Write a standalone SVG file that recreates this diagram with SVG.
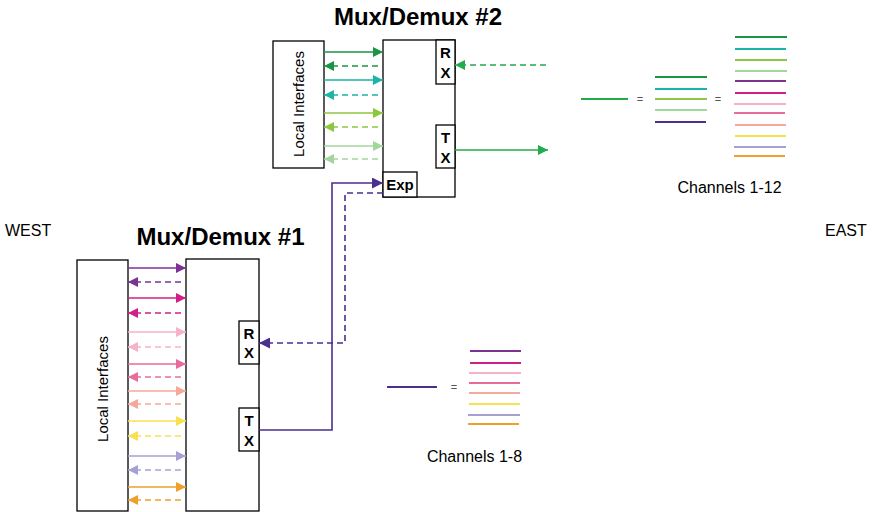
<svg xmlns="http://www.w3.org/2000/svg" width="875" height="512" viewBox="0 0 875 512">
  <style>
    text{font-family:"Liberation Sans",Arial,Helvetica,sans-serif;fill:#000}
    .box{fill:#fff;stroke:#000;stroke-width:1.3}
    .ttl{font-size:24px;font-weight:bold;text-anchor:middle}
    .port{font-size:15px;font-weight:bold;text-anchor:middle}
    .loc{font-size:15px;text-anchor:middle}
    .side{font-size:16px}
    .cap{font-size:16px;text-anchor:middle}
    .eq{font-size:11px;fill:#555;text-anchor:middle}
    .w{fill:none;stroke-width:1.6}
    .d{stroke-dasharray:6 4}
    .ch{fill:none;stroke-width:2}
    .g1{stroke:#1b9446}.g2{stroke:#1db3a6}.g3{stroke:#8dc63f}.g4{stroke:#a3d69d}
    .ind{stroke:#4b2e90}.gE{stroke:#21ab4a}
    .p1{stroke:#7b3294}.p2{stroke:#d01f86}.p3{stroke:#f4b3c9}.p4{stroke:#e96b9b}
    .p5{stroke:#f6a89b}.p6{stroke:#f8e151}.p7{stroke:#a5a2d3}.p8{stroke:#efa02a}
  </style>
  <defs>
    <marker id="a-g1" viewBox="0 0 10 10" refX="10" refY="5" markerWidth="10" markerHeight="10" markerUnits="userSpaceOnUse" orient="auto"><path d="M0,0L10,5L0,10z" fill="#1b9446"/></marker>
    <marker id="a-g2" viewBox="0 0 10 10" refX="10" refY="5" markerWidth="10" markerHeight="10" markerUnits="userSpaceOnUse" orient="auto"><path d="M0,0L10,5L0,10z" fill="#1db3a6"/></marker>
    <marker id="a-g3" viewBox="0 0 10 10" refX="10" refY="5" markerWidth="10" markerHeight="10" markerUnits="userSpaceOnUse" orient="auto"><path d="M0,0L10,5L0,10z" fill="#8dc63f"/></marker>
    <marker id="a-g4" viewBox="0 0 10 10" refX="10" refY="5" markerWidth="10" markerHeight="10" markerUnits="userSpaceOnUse" orient="auto"><path d="M0,0L10,5L0,10z" fill="#a3d69d"/></marker>
    <marker id="a-ind" viewBox="0 0 10 10" refX="10" refY="5" markerWidth="11" markerHeight="11" markerUnits="userSpaceOnUse" orient="auto"><path d="M0,0L10,5L0,10z" fill="#4b2e90"/></marker>
    <marker id="a-gE" viewBox="0 0 10 10" refX="10" refY="5" markerWidth="10" markerHeight="10" markerUnits="userSpaceOnUse" orient="auto"><path d="M0,0L10,5L0,10z" fill="#21ab4a"/></marker>
    <marker id="a-p1" viewBox="0 0 10 10" refX="10" refY="5" markerWidth="10" markerHeight="10" markerUnits="userSpaceOnUse" orient="auto"><path d="M0,0L10,5L0,10z" fill="#7b3294"/></marker>
    <marker id="a-p2" viewBox="0 0 10 10" refX="10" refY="5" markerWidth="10" markerHeight="10" markerUnits="userSpaceOnUse" orient="auto"><path d="M0,0L10,5L0,10z" fill="#d01f86"/></marker>
    <marker id="a-p3" viewBox="0 0 10 10" refX="10" refY="5" markerWidth="10" markerHeight="10" markerUnits="userSpaceOnUse" orient="auto"><path d="M0,0L10,5L0,10z" fill="#f4b3c9"/></marker>
    <marker id="a-p4" viewBox="0 0 10 10" refX="10" refY="5" markerWidth="10" markerHeight="10" markerUnits="userSpaceOnUse" orient="auto"><path d="M0,0L10,5L0,10z" fill="#e96b9b"/></marker>
    <marker id="a-p5" viewBox="0 0 10 10" refX="10" refY="5" markerWidth="10" markerHeight="10" markerUnits="userSpaceOnUse" orient="auto"><path d="M0,0L10,5L0,10z" fill="#f6a89b"/></marker>
    <marker id="a-p6" viewBox="0 0 10 10" refX="10" refY="5" markerWidth="10" markerHeight="10" markerUnits="userSpaceOnUse" orient="auto"><path d="M0,0L10,5L0,10z" fill="#f8e151"/></marker>
    <marker id="a-p7" viewBox="0 0 10 10" refX="10" refY="5" markerWidth="10" markerHeight="10" markerUnits="userSpaceOnUse" orient="auto"><path d="M0,0L10,5L0,10z" fill="#a5a2d3"/></marker>
    <marker id="a-p8" viewBox="0 0 10 10" refX="10" refY="5" markerWidth="10" markerHeight="10" markerUnits="userSpaceOnUse" orient="auto"><path d="M0,0L10,5L0,10z" fill="#efa02a"/></marker>
  </defs>

  <rect width="875" height="512" fill="#fff"/>

  <!-- side labels -->
  <text class="side" x="5" y="236">WEST</text>
  <text class="side" x="825" y="236">EAST</text>

  <!-- Mux/Demux #2 -->
  <g id="mux2">
    <text class="ttl" x="418" y="25">Mux/Demux #2</text>
    <rect class="box" x="383" y="40" width="72" height="157"/>
  </g>
  <g id="mux2-local">
    <rect class="box" x="273" y="41" width="51" height="127"/>
    <text class="loc" transform="translate(304,104) rotate(-90)">Local Interfaces</text>
  </g>
  <g id="mux2-rx">
    <rect class="box" x="436" y="40" width="19" height="44"/>
    <text class="port" x="445.5" y="57.5">R</text>
    <text class="port" x="445.5" y="77.5">X</text>
  </g>
  <g id="mux2-tx">
    <rect class="box" x="436" y="125" width="19" height="43"/>
    <text class="port" x="445.5" y="142.5">T</text>
    <text class="port" x="445.5" y="162.5">X</text>
  </g>
  <g id="mux2-exp">
    <rect class="box" x="383" y="172" width="34" height="25"/>
    <text class="port" x="400" y="190">Exp</text>
  </g>

  <!-- Mux/Demux #1 -->
  <g id="mux1">
    <text class="ttl" x="220.5" y="245">Mux/Demux #1</text>
    <rect class="box" x="186" y="259" width="73" height="252"/>
  </g>
  <g id="mux1-local">
    <rect class="box" x="77" y="260" width="51" height="251"/>
    <text class="loc" transform="translate(108,389) rotate(-90)">Local Interfaces</text>
  </g>
  <g id="mux1-rx">
    <rect class="box" x="239" y="321" width="20" height="43"/>
    <text class="port" x="249" y="339">R</text>
    <text class="port" x="249" y="358">X</text>
  </g>
  <g id="mux1-tx">
    <rect class="box" x="239" y="408" width="20" height="43"/>
    <text class="port" x="249" y="426">T</text>
    <text class="port" x="249" y="445.5">X</text>
  </g>

  <g id="connectors">
    <!-- local interfaces of #2 -->
    <path class="w g1" d="M324,52H383" marker-end="url(#a-g1)"/>
    <path class="w d g1" d="M378,66H324" marker-end="url(#a-g1)"/>
    <path class="w g2" d="M324,80H383" marker-end="url(#a-g2)"/>
    <path class="w d g2" d="M378,95H324" marker-end="url(#a-g2)"/>
    <path class="w g3" d="M324,113H383" marker-end="url(#a-g3)"/>
    <path class="w d g3" d="M378,127H324" marker-end="url(#a-g3)"/>
    <path class="w g4" d="M324,146H383" marker-end="url(#a-g4)"/>
    <path class="w d g4" d="M378,159H324" marker-end="url(#a-g4)"/>

    <!-- east line side of #2 -->
    <path class="w d gE" d="M546,65H455" marker-end="url(#a-gE)"/>
    <path class="w gE" d="M455,150H548" marker-end="url(#a-gE)"/>

    <!-- local interfaces of #1 -->
    <path class="w p1" d="M128,268H186" marker-end="url(#a-p1)"/>
    <path class="w d p1" d="M181,282H128" marker-end="url(#a-p1)"/>
    <path class="w p2" d="M128,298H186" marker-end="url(#a-p2)"/>
    <path class="w d p2" d="M181,313H128" marker-end="url(#a-p2)"/>
    <path class="w p3" d="M128,332H186" marker-end="url(#a-p3)"/>
    <path class="w d p3" d="M181,347H128" marker-end="url(#a-p3)"/>
    <path class="w p4" d="M128,364H186" marker-end="url(#a-p4)"/>
    <path class="w d p4" d="M181,377H128" marker-end="url(#a-p4)"/>
    <path class="w p5" d="M128,391H186" marker-end="url(#a-p5)"/>
    <path class="w d p5" d="M181,404H128" marker-end="url(#a-p5)"/>
    <path class="w p6" d="M128,421H186" marker-end="url(#a-p6)"/>
    <path class="w d p6" d="M181,436H128" marker-end="url(#a-p6)"/>
    <path class="w p7" d="M128,456H186" marker-end="url(#a-p7)"/>
    <path class="w d p7" d="M181,470H128" marker-end="url(#a-p7)"/>
    <path class="w p8" d="M128,487H186" marker-end="url(#a-p8)"/>
    <path class="w d p8" d="M181,500H128" marker-end="url(#a-p8)"/>

    <!-- expansion link between #1 and #2 -->
    <path class="w ind" d="M259,430H332V183H383" marker-end="url(#a-ind)"/>
    <path class="w d ind" d="M383,193H345V343H259" marker-end="url(#a-ind)"/>
  </g>

  <!-- channel legend, east side -->
  <g id="legend-12">
    <path class="ch gE" d="M581,99H628"/>
    <text class="eq" x="640" y="103">=</text>
    <path class="ch g1" d="M655,77H707"/>
    <path class="ch g2" d="M655,89H707"/>
    <path class="ch g3" d="M655,99H707"/>
    <path class="ch g4" d="M655,110H707"/>
    <path class="ch ind" d="M655,122H706"/>
    <text class="eq" x="718" y="103">=</text>
    <path class="ch g1" d="M735,37H787"/>
    <path class="ch g2" d="M735,49H786"/>
    <path class="ch g3" d="M735,60H787"/>
    <path class="ch g4" d="M735,71H787"/>
    <path class="ch p1" d="M735,81H786"/>
    <path class="ch p2" d="M735,93H786"/>
    <path class="ch p3" d="M734,104H786"/>
    <path class="ch p4" d="M734,113H785"/>
    <path class="ch p5" d="M735,125H786"/>
    <path class="ch p6" d="M735,136H786"/>
    <path class="ch p7" d="M734,147H786"/>
    <path class="ch p8" d="M734,156H785"/>
    <text class="cap" x="729.5" y="193">Channels 1-12</text>
  </g>

  <!-- channel legend, west side -->
  <g id="legend-8">
    <path class="ch ind" d="M387,387H437"/>
    <text class="eq" x="454" y="391">=</text>
    <path class="ch p1" d="M470,351H521"/>
    <path class="ch p2" d="M470,363H521"/>
    <path class="ch p3" d="M469,373H521"/>
    <path class="ch p4" d="M469,383H520"/>
    <path class="ch p5" d="M469,393H520"/>
    <path class="ch p6" d="M469,404H520"/>
    <path class="ch p7" d="M468,415H520"/>
    <path class="ch p8" d="M468,424H519"/>
    <text class="cap" x="474.5" y="462">Channels 1-8</text>
  </g>
</svg>
